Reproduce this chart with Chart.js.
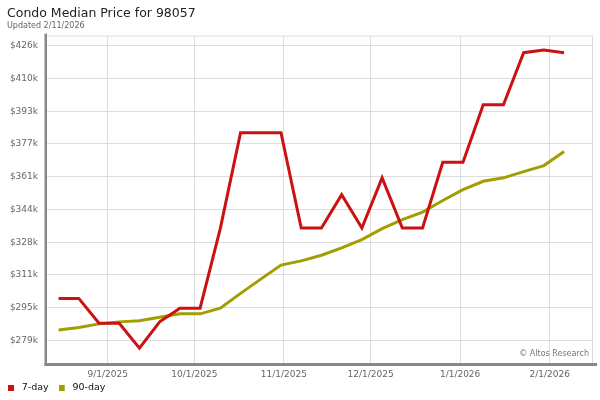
<!DOCTYPE html>
<html><head><meta charset="utf-8">
<script src="https://cdn.jsdelivr.net/npm/chart.js@4/dist/chart.umd.min.js"></script>
<style>html,body{margin:0;padding:0;background:#fff}#wrap{width:600px;height:400px}</style>
</head><body><div id="wrap"><canvas id="c" width="600" height="400"></canvas></div>
<script>
const dates = ['2025-08-15','2025-08-22','2025-08-29','2025-09-05','2025-09-12','2025-09-19','2025-09-26',
  '2025-10-03','2025-10-10','2025-10-17','2025-10-24','2025-10-31','2025-11-07','2025-11-14','2025-11-21',
  '2025-11-28','2025-12-05','2025-12-12','2025-12-19','2025-12-26','2026-01-02','2026-01-09','2026-01-16',
  '2026-01-23','2026-01-30','2026-02-06'];
const sevenDay = [300.0,300.0,287.6,287.6,275.2,288.3,295.1,295.1,334.9,382.6,382.6,382.6,335.1,335.1,351.7,
  335.1,360.1,335.1,335.1,367.9,367.9,396.5,396.5,422.5,423.8,422.5];
const ninetyDay = [284.3,285.5,287.3,288.3,288.9,290.6,292.3,292.3,295.1,302.5,309.6,316.6,318.7,321.5,325.2,
  329.3,334.8,339.3,343.0,348.8,354.2,358.4,360.1,363.2,366.2,373.2];
const yTickLabels = ['$279k','$295k','$311k','$328k','$344k','$361k','$377k','$393k','$410k','$426k'];
const xTickLabels = ['9/1/2025','10/1/2025','11/1/2025','12/1/2025','1/1/2026','2/1/2026'];
const xRange = ['2025-08-11','2026-02-16'];
const yRange = [267.8, 431.0];

const DAY = 86400000;
const origin = Date.UTC(2025, 8, 1);
function dayOf(iso){ const [y,m,d] = iso.split('-').map(Number); return (Date.UTC(y,m-1,d) - origin) / DAY; }
function dayOfUS(s){ const [m,d,y] = s.split('/').map(Number); return (Date.UTC(y,m-1,d) - origin) / DAY; }
const kOf = s => parseFloat(s.replace(/[^0-9.]/g,''));
const yFirst = kOf(yTickLabels[0]), yLast = kOf(yTickLabels[yTickLabels.length-1]);
const yStep = (yLast - yFirst) / (yTickLabels.length - 1);

const pts = arr => arr.map((v,i) => ({x: dayOf(dates[i]), y: v}));

function legendSwatch(color){
  const c = document.createElement('canvas');
  c.width = 9; c.height = 6;
  const g = c.getContext('2d');
  g.fillStyle = color; g.fillRect(0, 0, 6, 6);
  return c;
}

const frame = {
  id: 'frame',
  afterLayout(chart){
    const l = chart.legend;
    if (l) { l.top -= 10; l.left -= 9; }
  },
  beforeDatasetsDraw(chart){
    const {ctx, chartArea: a} = chart;
    ctx.save();
    ctx.strokeStyle = '#dddddd'; ctx.lineWidth = 1;
    ctx.beginPath();
    ctx.moveTo(a.left, a.top + 0.5); ctx.lineTo(a.right, a.top + 0.5);
    ctx.moveTo(a.right - 0.5, a.top); ctx.lineTo(a.right - 0.5, a.bottom);
    ctx.stroke();
    ctx.fillStyle = '#888888';
    ctx.fillRect(a.left - 2.5, a.top - 2, 2.5, a.bottom - a.top + 5);
    ctx.fillRect(a.left - 2.5, a.bottom, a.right - a.left + 6.5, 3);
    ctx.fillStyle = '#777777';
    ctx.font = '8px "DejaVu Sans"';
    ctx.textAlign = 'right'; ctx.textBaseline = 'middle';
    ctx.fillText('\u00A9 Altos Research', a.right - 4, a.bottom - 9);
    ctx.restore();
  }
};

new Chart(document.getElementById('c'), {
  type: 'line',
  data: {
    datasets: [
      {label: '7-day', data: pts(sevenDay), borderColor: '#cc1111', backgroundColor: '#cc1111',
       borderWidth: 3, pointRadius: 0, tension: 0, fill: false, pointStyle: legendSwatch('#cc1111')},
      {label: '90-day', data: pts(ninetyDay), borderColor: '#a39e00', backgroundColor: '#a39e00',
       borderWidth: 3, pointRadius: 0, tension: 0, fill: false, pointStyle: legendSwatch('#a39e00')}
    ]
  },
  options: {
    responsive: false, animation: false, devicePixelRatio: 1,
    layout: {padding: {left: 7, right: 7, top: 0, bottom: 0}},
    plugins: {
      title: {display: true, text: 'Condo Median Price for 98057', align: 'start', color: '#222222',
        font: {family: 'DejaVu Sans', size: 12.5, weight: 'normal'}, padding: {top: 6, bottom: 0}},
      subtitle: {display: true, text: 'Updated 2/11/2026', align: 'start', color: '#666666',
        font: {family: 'DejaVu Sans', size: 8, weight: 'normal'}, padding: {top: 0, bottom: 5}},
      legend: {position: 'bottom', align: 'start', maxHeight: 17,
        labels: {usePointStyle: true, pointStyleWidth: 9, boxHeight: 6, padding: 10, color: '#111111',
          font: {family: 'DejaVu Sans', size: 9.5}}},
      tooltip: {enabled: false}
    },
    scales: {
      x: {type: 'linear', min: dayOf(xRange[0]), max: dayOf(xRange[1]),
        afterBuildTicks: s => { s.ticks = xTickLabels.map(l => ({value: dayOfUS(l)})); },
        afterFit: s => { s.height = 20; },
        ticks: {autoSkip: false, maxRotation: 0, padding: 6.5, color: '#666666',
          font: {family: 'DejaVu Sans', size: 9},
          callback: (v, i) => xTickLabels[i]},
        grid: {color: '#dddddd', drawTicks: false},
        border: {display: false}},
      y: {type: 'linear', min: yRange[0], max: yRange[1],
        afterBuildTicks: s => { s.ticks = yTickLabels.map((l, i) => ({value: yFirst + i * yStep})); },
        afterFit: s => { s.width = 40; },
        ticks: {autoSkip: false, padding: 9, color: '#666666',
          font: {family: 'DejaVu Sans', size: 9},
          callback: (v, i) => yTickLabels[i]},
        grid: {color: '#dddddd', drawTicks: false},
        border: {display: false}}
    }
  },
  plugins: [frame]
});
</script></body></html>
